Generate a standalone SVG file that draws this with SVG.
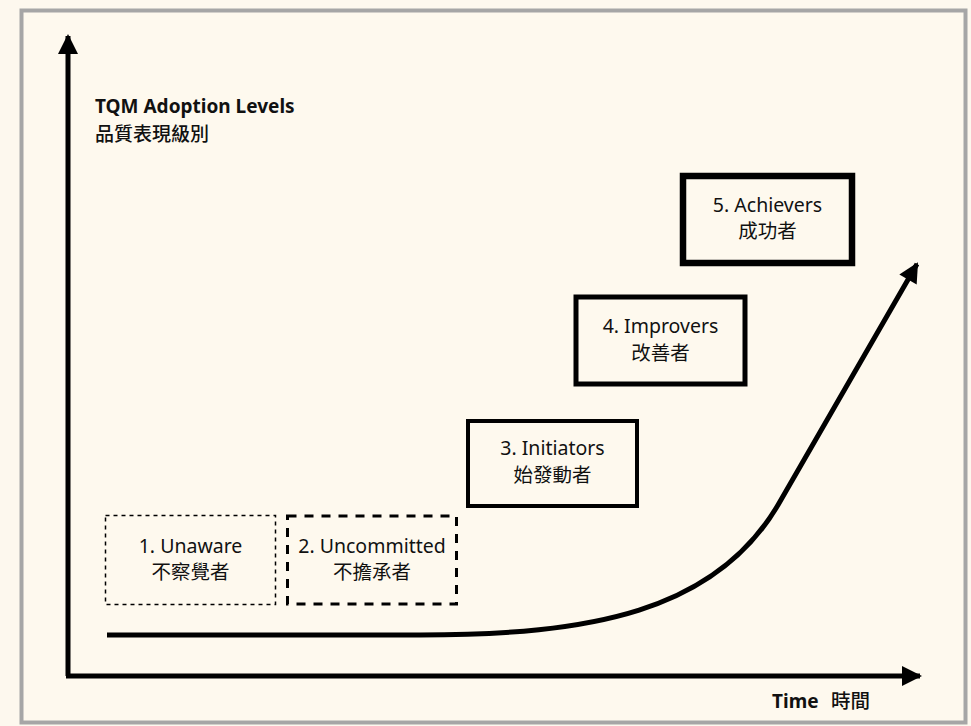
<svg xmlns="http://www.w3.org/2000/svg" width="971" height="726" viewBox="0 0 971 726">
<style>
text{font-family:"Noto Sans","Noto Sans CJK TC",sans-serif;fill:#111;}
.lbl{font-size:19.5px;text-anchor:middle;}
.b{font-weight:bold;font-size:19px;}
.box{fill:none;stroke:#000;}
</style>
<defs>
<marker id="ah" viewBox="0 0 10 10" refX="9" refY="5" markerWidth="4.2" markerHeight="4" orient="auto" markerUnits="strokeWidth">
<path d="M0,0 L10,5 L0,10 Z" fill="#000"/>
</marker>
</defs>
<rect x="0" y="0" width="971" height="726" fill="#fdf8ee"/>
<rect x="21.5" y="10.5" width="944" height="712" fill="#fef9ee" stroke="#a6a6a6" stroke-width="4"/>
<g id="connectors">
<path d="M68,676 L68,36" stroke="#000" stroke-width="5" fill="none" marker-end="url(#ah)"/>
<path d="M66,676 L920,676" stroke="#000" stroke-width="5" fill="none" marker-end="url(#ah)"/>
<path d="M107,635 L420,635 C590,635 715,612 778,505 L917,264" stroke="#000" stroke-width="5" fill="none" marker-end="url(#ah)"/>
</g>
<g id="ylabel">
<text class="b" x="95" y="113">TQM Adoption Levels</text>
<text x="95" y="141" font-size="19px" font-weight="500">品質表現級別</text>
</g>
<g id="xlabel">
<text class="b" x="772" y="708">Time</text>
<text x="831" y="708" font-size="19.5px" font-weight="500">時間</text>
</g>
<g id="n1">
<rect class="box" x="105.5" y="515.5" width="170" height="89" stroke-width="1.5" stroke-dasharray="4,4"/>
<text class="lbl" x="190.5" y="553">1. Unaware</text>
<text class="lbl" x="190.5" y="579">不察覺者</text>
</g>
<g id="n2">
<rect class="box" x="287.5" y="516" width="169" height="88" stroke-width="3" stroke-dasharray="9,8"/>
<text class="lbl" x="372" y="553">2. Uncommitted</text>
<text class="lbl" x="372" y="579">不擔承者</text>
</g>
<g id="n3">
<rect class="box" x="468" y="421" width="169" height="85" stroke-width="4"/>
<text class="lbl" x="552.5" y="455">3. Initiators</text>
<text class="lbl" x="552.5" y="482">始發動者</text>
</g>
<g id="n4">
<rect class="box" x="576" y="297" width="169" height="87" stroke-width="5"/>
<text class="lbl" x="660.5" y="333">4. Improvers</text>
<text class="lbl" x="660.5" y="360">改善者</text>
</g>
<g id="n5">
<rect class="box" x="683" y="176" width="169" height="87" stroke-width="6.5"/>
<text class="lbl" x="767.5" y="212">5. Achievers</text>
<text class="lbl" x="767.5" y="238">成功者</text>
</g>
</svg>
